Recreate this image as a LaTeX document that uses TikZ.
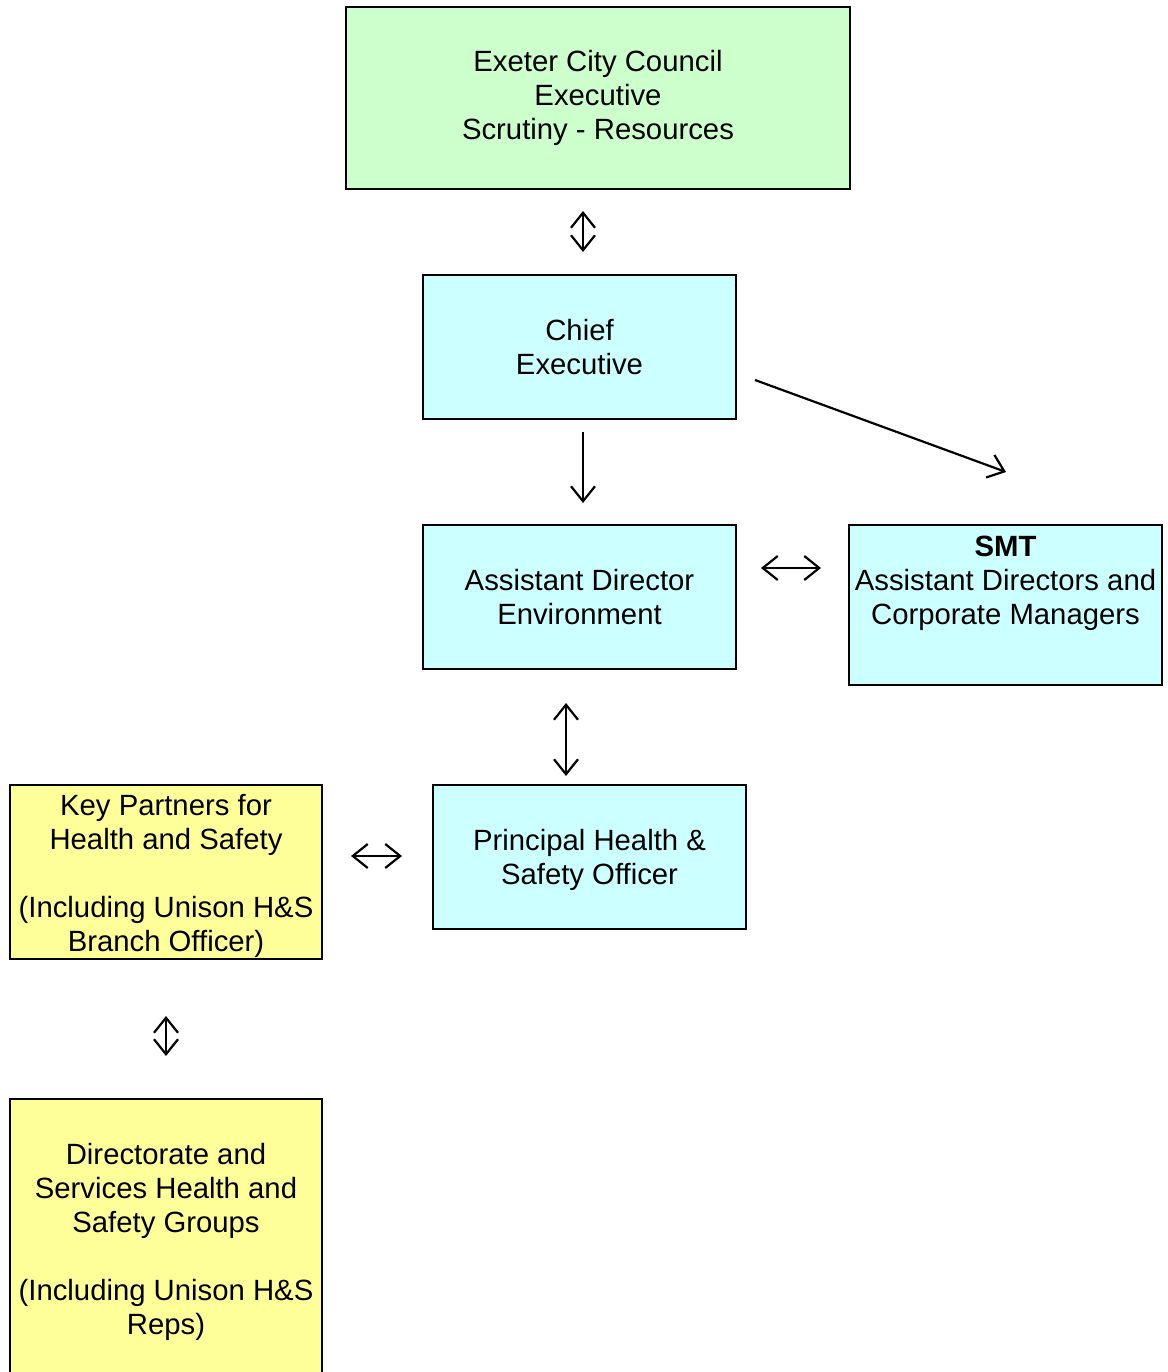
\documentclass[tikz,border=0pt]{standalone}
\usepackage{fontspec}
\setmainfont{Liberation Sans}
\usetikzlibrary{arrows.meta}
\definecolor{boxgreen}{HTML}{CCFFCC}
\definecolor{boxcyan}{HTML}{CCFFFF}
\definecolor{boxyellow}{HTML}{FFFF99}
\begin{document}
\begin{tikzpicture}[x=1pt,y=-1pt,
  box/.style={draw=black, line width=2pt, inner sep=0pt, align=center,
    font=\fontsize{29.3}{34}\selectfont},
  txt/.style={inner sep=0pt, align=center, font=\fontsize{29.3}{34}\selectfont},
  conn/.style={line width=2.2pt, {Straight Barb[length=15pt,width=24pt,line width=2.2pt]}-{Straight Barb[length=15pt,width=24pt,line width=2.2pt]}},
  oneway/.style={line width=2.2pt, -{Straight Barb[length=15pt,width=24pt,line width=2.2pt]}}]
\useasboundingbox (0,0) rectangle (1167,1372);
\begin{scope}
\clip (0,0) rectangle (1167,1372);
\node[box, fill=boxgreen, minimum width=504pt, minimum height=182pt] (top) at (598,98)
  {Exeter City Council\\Executive\\Scrutiny - Resources};
\node[box, fill=boxcyan, minimum width=313pt, minimum height=144pt] (chief) at (579.5,347)
  {Chief\\Executive};
\node[box, fill=boxcyan, minimum width=313pt, minimum height=144pt] (ad) at (579.5,597)
  {Assistant Director\\Environment};
\node[box, fill=boxcyan, minimum width=313pt, minimum height=160pt] (smt) at (1005.5,605) {};
\node[txt] (smttext) at (1005.5,583) {\textbf{SMT}\\Assistant Directors and\\Corporate Managers};
\node[box, fill=boxcyan, minimum width=313pt, minimum height=144pt] (phso) at (589.5,857) {};
\node[txt] (phsotext) at (589.5,859.5) {Principal Health \&\\Safety Officer};
\node[box, fill=boxyellow, minimum width=312pt, minimum height=174pt] (kp) at (166,872) {};
\node[txt] (kptext) at (166,876) {Key Partners for\\Health and Safety\\[34pt](Including Unison H\&S\\Branch Officer)};
\node[box, fill=boxyellow, minimum width=312pt, minimum height=278pt] (dir) at (166,1238) {};
\node[txt] (dirtext) at (166,1241.5) {Directorate and\\Services Health and\\Safety Groups\\[34pt](Including Unison H\&S\\Reps)};
\end{scope}
\coordinate (diagstart) at (755,380);
\coordinate (diagend) at (1006,472);
\draw[conn, shorten <=21pt, shorten >=22pt] (top.south -| 583,0) -- (chief.north -| 583,0);
\draw[oneway, shorten <=12pt, shorten >=21pt] (chief.south -| 583,0) -- (ad.north -| 583,0);
\draw[oneway] (diagstart) -- (diagend);
\draw[conn, shorten <=24pt, shorten >=27pt] (ad.east |- 0,568) -- (smt.west |- 0,568);
\draw[conn, shorten <=33pt, shorten >=8pt] (ad.south -| 566,0) -- (phso.north -| 566,0);
\draw[conn, shorten <=28pt, shorten >=30pt] (kp.east |- 0,856) -- (phso.west |- 0,856);
\draw[conn, shorten <=56pt, shorten >=42pt] (kp.south -| 166,0) -- (dir.north -| 166,0);
\end{tikzpicture}
\end{document}
